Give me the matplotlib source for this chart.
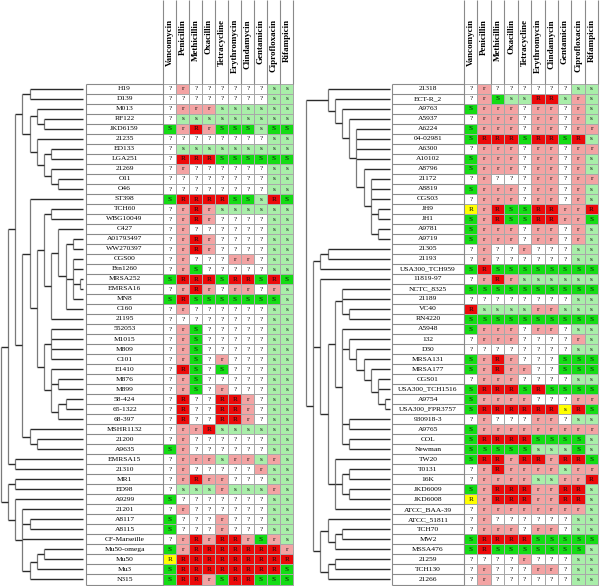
import matplotlib
matplotlib.use('Agg')
import matplotlib.pyplot as plt
import numpy as np
from matplotlib.colors import ListedColormap

plt.rcParams['font.family'] = ['Liberation Serif', 'DejaVu Serif']

# Spalten: Antibiotika
antibiotics = ['Vancomycin', 'Penicillin', 'Methicillin', 'Oxacillin', 'Tetracycline',
               'Erythromycin', 'Clindamycin', 'Gentamicin', 'Ciprofloxacin', 'Rifampicin']

# linke Tafel
left_strains = ['H19', 'D139', 'M013', 'RF122', 'JKD6159', '21235', 'ED133', 'LGA251',
                '21269', 'O11', 'O46', 'ST398', 'TCH60', 'WBG10049', 'C427', 'A01793497',
                'WW270397', 'CGS00', 'Btn1260', 'MRSA252', 'EMRSA16', 'MN8', 'C160', '21195',
                '552053', 'M1015', 'M809', 'C101', 'E1410', 'M876', 'M899', '58-424',
                '65-1322', '68-397', 'MSHR1132', '21200', 'A9635', 'EMRSA15', '21310', 'MR1',
                'ED98', 'A9299', '21201', 'A8117', 'A8115', 'CF-Marseille', 'Mu50-omega',
                'Mu50', 'Mu3', 'N315']
# ? unbekannt, s/S empfindlich, r/R resistent, * = gelb markiert
left_calls = [
    '? r ? ? ? ? ? ? s s', '? ? ? ? ? ? ? ? s s', '? r r r s s s s s s', '? s s s s s s s s s',
    'S r R r S S S s S S', '? ? ? ? ? ? ? ? s s', '? s s s s s s s s s', '? R R R S S S S S S',
    '? r ? ? ? ? ? ? s s', '? ? ? ? ? ? ? ? s s', '? ? ? ? ? ? ? ? s s', 'S R R R R S S s R S',
    '? r R r s s s s s s', '? r R r ? ? ? ? s s', '? r ? ? ? ? ? ? s s', '? r R r ? ? ? ? s s',
    '? r R r ? ? ? ? s s', '? r ? ? ? r r ? s s', '? r S ? ? ? ? ? s s', 'S R R R S R R S R S',
    '? r R r ? r r ? r s', 'S R S S S S S S S s', '? r ? ? ? ? ? ? s s', '? ? ? ? ? ? ? ? s s',
    '? r S ? ? ? ? ? s s', '? r S ? ? ? ? ? s s', '? r S ? ? ? ? ? s s', '? r S ? r ? ? ? s s',
    '? R S ? S ? ? ? s s', '? r S ? ? ? ? ? s s', '? r S ? r ? ? ? s s', '? R ? ? R R r ? s s',
    '? R ? ? R R r ? s s', '? R ? ? R R r ? s s', '? r r R s s s s s s', '? r ? ? ? ? ? ? s s',
    'S r ? ? ? ? ? ? s s', '? r r r s r r s r s', '? r ? ? ? ? ? r s s', '? r R r r ? ? ? s s',
    '? s s s r s s s r s', 'S ? ? ? ? ? ? ? s s', '? r ? ? ? ? ? ? s s', 'S ? ? ? r ? ? ? s s',
    'S ? ? ? r ? ? ? s s', '? r R r R R r S r s', 'S r R R R R R R R r', 'R* R R R R R R R R R',
    'S R R R R R R R R S', 'S R R r S R R S S S']

# rechte Tafel
right_strains = ['21318', 'ECT-R_2', 'A9763', 'A5937', 'A6224', '04-02981', 'A6300', 'A10102',
                 'A8796', '21172', 'A8819', 'CGS03', 'JH9', 'JH1', 'A9781', 'A9719', '21305',
                 '21193', 'USA300_TCH959', '11819-97', 'NCTC_8325', '21189', 'VC40', 'RN4220',
                 'A5948', '132', 'D30', 'MRSA131', 'MRSA177', 'CGS01', 'USA300_TCH1516',
                 'A9754', 'USA300_FPR3757', '930918-3', 'A9765', 'COL', 'Newman', 'TW20',
                 'T0131', '16K', 'JKD6009', 'JKD6008', 'ATCC_BAA-39', 'ATCC_51811', 'TCH70',
                 'MW2', 'MSSA476', '21259', 'TCH130', '21266']
right_calls = [
    '? r ? ? ? ? ? ? s s', '? r S s s R R s r s', 'S r r r ? r r ? r s', '? r r r ? r r ? r s',
    'S r r r ? r r ? r r', 'S R R R S R R S R s', '? r r r ? r r ? r r', 'S r r r ? r r ? r s',
    'S r r r ? r r ? r s', '? r ? ? ? r r ? r r', 'S r r r ? r r ? r s', '? r r r ? r r ? r s',
    'R* r R S S R R r r R', 'S r R S S R R r r S', 'S r r r ? r r ? r s', 'S r r r ? r r ? r s',
    '? r ? ? r ? ? ? s s', '? r ? ? ? ? ? ? s s', 'S R S S S S S S S S', '? r R r s s s s s s',
    'S S S S S S S S S S', '? ? ? ? ? ? ? ? s s', 'R s s s s r r s s s', 'S S S S S S S S S S',
    'S r r r ? r r ? s s', '? r r r ? ? ? ? r s', '? ? ? ? ? ? ? ? s s', 'S r R r ? ? ? S S S',
    'S r R r r ? ? S S S', '? r r r ? ? ? ? s s', 'S R R R S R S S S S', 'S r r r r ? ? ? r r',
    'S R R R R R R s* R S', '? r ? ? ? r r ? s s', 'S r r r r r r r r r', 'S R R R R S S S S s',
    'S S S S S s s s S s', 'S R R r R R r R R S', '? r R r r r r s r r', '? r r r r s s r r R',
    'S r R R R r r R R s', 'R* r R R R r r R R s', '? r r r r r r r r s', '? r ? ? ? ? ? ? s s',
    '? r r r ? r r ? s s', 'S R R R R S S S S S', 'S R S S S S S S S s', '? ? ? ? r ? ? ? s s',
    '? r ? ? ? r r ? s s', '? r ? ? ? ? ? ? s s']

# Dendrogramme: (Ebene, [Kinder]), Zahl = Zeilenindex
left_tree = (0, [
    (1, [(2, [(3, [(4, [0, 1]),
                   (4, [(5, [2, (6, [3, 4])]),
                        (5, [5, (6, [(7, [6, 7]), (7, [8, (8, [9, 10])])])])])]),
              (3, [(4, [11, (5, [(6, [(7, [12, 13]),
                                      (7, [(8, [14, (9, [(10, [15, 16]),
                                                         (10, [17, 18, (11, [19, 20]), 21]),
                                                         22])]),
                                           23])]),
                                 (6, [(7, [24, 25, 26, 27]),
                                      (7, [28, (8, [29, 30]), (8, [(9, [31, 32]), 33])])])])]),
                   (4, [34, (5, [35, 36])])])]),
         (2, [37, 38])]),
    (1, [(2, [39, 40]),
         (2, [41, (3, [42, (4, [43, 44]), 45, (4, [(5, [(6, [46, 47]), 48]), 49])])])])])

right_tree = (0, [
    (3, [0, (4, [1, (5, [2, (6, [3, (7, [4, 5, 6, 7,
                                         (8, [8, (9, [9, 10, 11, (10, [12, 13]),
                                                      (10, [14, 15])])])])])])])]),
    (1, [(2, [(3, [16, 17]), 18]),
         (2, [19, (3, [(4, [(5, [20, 21, (6, [22, 23])]),
                            (5, [24,
                                 (6, [25, (7, [26, (8, [27, (9, [28, (10, [29, 30,
                                                                        (11, [31, 32])])])])])]),
                                 (6, [33, 34]), (6, [35, 36])])]),
                       (4, [37, (5, [(6, [38, 39]), (6, [40, 41])]), 42])])]),
         (2, [(3, [43, (4, [(5, [44, 45]), 46])]), (3, [(4, [47, 48]), 49])])])])

color_codes = {'?': 0, 's': 1, 'S': 2, 'r': 3, 'R': 4}
cell_cmap = ListedColormap(['#ffffff', '#a9eea9', '#14dc14', '#f3a3a3', '#ec0a0a', '#ffff00'])

fig = plt.figure(figsize=(6.0, 5.86), dpi=100)
ax = fig.add_axes([0, 0, 1, 1])
ax.set_xlim(0, 600)
ax.set_ylim(586, 0)
ax.axis('off')

row_top = 83.5
row_h = 10.02
n_rows = len(left_strains)


def row_y(i):
    return row_top + (i + 0.5) * row_h


def draw_tree(node, x0, step, leaf_end, parent_x=None):
    if isinstance(node, int):
        y = row_y(node)
        ax.hlines(y, parent_x, leaf_end, color='#2b2b2b', lw=1.0)
        return y
    level, kids = node
    x = x0 + level * step
    ys = [draw_tree(k, x0, step, leaf_end, x) for k in kids]
    ax.vlines(x, min(ys), max(ys), color='#7a7a7a', lw=0.9)
    y = (min(ys) + max(ys)) / 2
    if parent_x is not None:
        ax.hlines(y, parent_x, x, color='#2b2b2b', lw=1.0)
    return y


def panel(strains, calls, tree, tree_x0, leaf_end, lab_x0, grid_x0, col_w):
    draw_tree(tree, tree_x0, 7.2, leaf_end)

    n_cols = len(antibiotics)
    yedges = row_top + np.arange(n_rows + 1) * row_h
    xedges = grid_x0 + np.arange(n_cols + 1) * col_w

    # Stammnamen in Kaestchen
    ax.vlines([lab_x0, grid_x0], row_top, yedges[-1], color='#8a8a8a', lw=0.8)
    ax.hlines(yedges, lab_x0, grid_x0, color='#8a8a8a', lw=0.8)
    for i, name in enumerate(strains):
        ax.text((lab_x0 + grid_x0) / 2, row_y(i), name, ha='center', va='center',
                fontsize=5.4)

    # Resistenzmatrix
    codes = np.zeros((n_rows, n_cols), dtype=int)
    letters = []
    for i, row in enumerate(calls):
        vals = row.split()
        letters.append([v.rstrip('*') for v in vals])
        for j, v in enumerate(vals):
            codes[i, j] = 5 if v.endswith('*') else color_codes[v]
    ax.pcolormesh(xedges, yedges, codes, cmap=cell_cmap, vmin=-0.5, vmax=5.5,
                  edgecolors='#a8a8a8', linewidth=0.5)
    for i in range(n_rows):
        for j in range(n_cols):
            ax.text((xedges[j] + xedges[j + 1]) / 2, row_y(i) + 0.3, letters[i][j],
                    ha='center', va='center', fontsize=5.2, color='#111111')

    # Kopfzeile
    ax.vlines(xedges, 0, row_top, color='#8a8a8a', lw=0.8)
    for j, name in enumerate(antibiotics):
        ax.text((xedges[j] + xedges[j + 1]) / 2, 19, name, rotation=90, ha='center',
                va='top', fontsize=6.5, fontweight='bold')


panel(left_strains, left_calls, left_tree, 0.8, 83.3, 86.0, 163.3, 13.0)
panel(right_strains, right_calls, right_tree, 306.0, 390.3, 392.0, 464.0, 13.43)

fig.savefig('out.png', dpi=100)
